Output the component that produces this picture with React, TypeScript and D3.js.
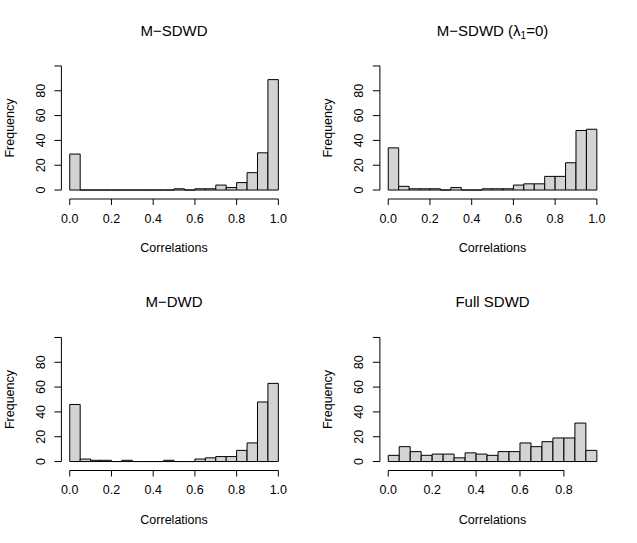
import * as d3 from 'd3';

const binWidth = 0.05;

// counts per 0.05-wide bin
const mSdwd = [29, 0, 0, 0, 0, 0, 0, 0, 0, 0, 1, 0, 1, 1, 4, 2, 6, 14, 30, 89];
const mSdwdLambda = [34, 3, 1, 1, 1, 0, 2, 0, 0, 1, 1, 1, 4, 5, 5, 11, 11, 22, 48, 49];
const mDwd = [46, 2, 1, 1, 0, 1, 0, 0, 0, 1, 0, 0, 2, 3, 4, 4, 9, 15, 48, 63];
const fullSdwd = [5, 12, 8, 5, 6, 6, 3, 7, 6, 5, 8, 8, 15, 12, 16, 19, 19, 31, 9];

const xTicksFull = [0, 0.2, 0.4, 0.6, 0.8, 1.0];
const xTicksShort = [0, 0.2, 0.4, 0.6, 0.8];
const yTicks = [0, 20, 40, 60, 80, 100];
const yLabels = ['0', '20', '40', '60', '80', ''];

const panels = [
	{ title: 'M−SDWD', counts: mSdwd, xTicks: xTicksFull, sub: false },
	{ title: 'M−SDWD (λ', counts: mSdwdLambda, xTicks: xTicksFull, sub: true },
	{ title: 'M−DWD', counts: mDwd, xTicks: xTicksFull, sub: false },
	{ title: 'Full SDWD', counts: fullSdwd, xTicks: xTicksShort, sub: false },
];

const width = 637,
	height = 543;
const plot = { left: 61.4, right: 286.7, top: 61, bottom: 195 };
const font = 'Liberation Sans, Arial, Helvetica, sans-serif';

function Panel({ p, dx, dy }: { p: (typeof panels)[number]; dx: number; dy: number }) {
	const xMax = p.counts.length * binWidth;
	const pad = 0.04 * xMax;
	const x = d3.scaleLinear().domain([-pad, xMax + pad]).range([plot.left, plot.right]);
	const y = d3.scaleLinear().domain([-4, 104]).range([plot.bottom, plot.top]);
	const cx = (plot.left + plot.right) / 2;
	const axisY = 199;
	const first = p.xTicks[0],
		last = p.xTicks[p.xTicks.length - 1];

	return (
		<g transform={`translate(${dx},${dy})`} fontFamily={font}>
			<text x={cx} y={35.5} textAnchor="middle" fontSize={15}>
				{p.title}
				{p.sub && (
					<>
						<tspan fontSize={10} dy={3}>1</tspan>
						<tspan dy={-3}>=0)</tspan>
					</>
				)}
			</text>
			{/* bars drawn as closed paths so empty bins still leave their baseline */}
			{p.counts.map((c, i) => {
				const x0 = x(i * binWidth),
					x1 = x((i + 1) * binWidth);
				return (
					<path
						key={i}
						d={`M${x0},${y(0)}H${x1}V${y(c)}H${x0}Z`}
						fill="#d3d3d3"
						stroke="#000"
						strokeWidth={1}
					/>
				);
			})}
			{/* bottom axis */}
			<g stroke="#000" strokeWidth={1}>
				<line x1={x(first)} x2={x(last)} y1={axisY} y2={axisY} />
				{p.xTicks.map((t) => (
					<line key={t} x1={x(t)} x2={x(t)} y1={axisY} y2={axisY + 6} />
				))}
			</g>
			{p.xTicks.map((t) => (
				<text key={t} x={x(t)} y={222.5} textAnchor="middle" fontSize={12.5}>
					{t.toFixed(1)}
				</text>
			))}
			<text x={cx} y={252} textAnchor="middle" fontSize={12.5}>
				Correlations
			</text>
			{/* left axis */}
			<g stroke="#000" strokeWidth={1}>
				<line x1={plot.left} x2={plot.left} y1={y(0)} y2={y(100)} />
				{yTicks.map((t) => (
					<line key={t} x1={plot.left - 7} x2={plot.left} y1={y(t)} y2={y(t)} />
				))}
			</g>
			{yTicks.map((t, i) => (
				<text
					key={t}
					transform={`translate(44.5,${y(t)}) rotate(-90)`}
					textAnchor="middle"
					fontSize={12.5}
				>
					{yLabels[i]}
				</text>
			))}
			<text
				transform={`translate(13.5,${(plot.top + plot.bottom) / 2}) rotate(-90)`}
				textAnchor="middle"
				fontSize={12.5}
			>
				Frequency
			</text>
		</g>
	);
}

export default function App() {
	return (
		<svg
			width={width}
			height={height}
			style={{ position: 'fixed', left: 0, top: 0, background: '#fff' }}
		>
			{panels.map((p, i) => (
				<Panel key={i} p={p} dx={(i % 2) * (width / 2)} dy={Math.floor(i / 2) * (height / 2)} />
			))}
		</svg>
	);
}
